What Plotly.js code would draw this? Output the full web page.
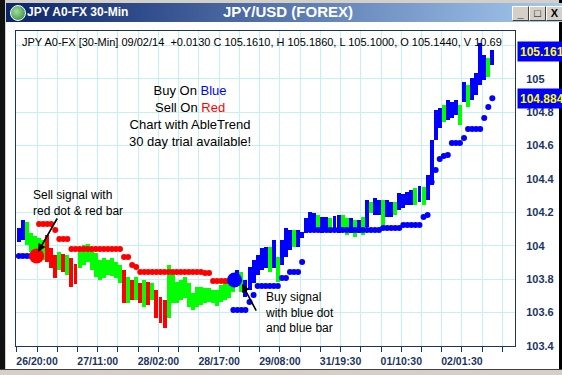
<!DOCTYPE html>
<html><head><meta charset="utf-8">
<script src="https://cdn.plot.ly/plotly-3.0.1.min.js"></script>
<style>
html,body{margin:0;padding:0;width:562px;height:375px;overflow:hidden;background:#fff;font-family:"Liberation Sans",Arial,sans-serif}
.abs{position:absolute}
#chart{position:absolute;left:0;top:0;width:562px;height:375px}
.btn{position:absolute;top:6px;width:15px;height:13px;background:#d4d0c8;border-top:1px solid #fff;border-left:1px solid #fff;border-right:1px solid #404040;border-bottom:1px solid #404040;font:bold 11px "Liberation Sans",Arial,sans-serif;color:#000;text-align:center;line-height:12px}
</style></head><body>
<div class="abs" style="left:0;top:0;width:562px;height:3px;background:#d4d0c8"></div>
<div class="abs" style="left:0;top:0;width:5px;height:375px;background:#111"></div>
<div class="abs" style="left:5px;top:0;width:1px;height:375px;background:#d4d0c8"></div>
<div class="abs" style="left:559px;top:0;width:3px;height:375px;background:#000"></div>
<div class="abs" style="left:0;top:369px;width:562px;height:6px;background:#d4d0c8;border-top:1px solid #404040"></div>
<div class="abs" style="left:6px;top:3px;width:556px;height:19px;background:linear-gradient(to right,#0a246a,#a6caf0)"></div>
<div class="abs" style="left:10px;top:5px;width:14px;height:14px;border-radius:50%;background:radial-gradient(circle at 40% 40%,#9fe09f,#2e7d32);border:1px solid #fff"></div>
<div class="btn" style="left:512px">_</div>
<div class="btn" style="left:529px">&#9633;</div>
<div class="btn" style="left:546px">X</div>
<div id="chart"></div>
<script>
// x-axis tick labels (every 15 hours; a minor tick every 5 hours)
const tickLabels = ['26/20:00','27/11:00','28/02:00','28/17:00','29/08:00','31/19:30','01/10:30','02/01:30'];

// hourly bars (high / low), AbleTrend colour per bar: b = blue, g = green, r = red
const barHigh = [
 104.107,104.154,104.143,104.077,104.059,104.047,104.035,104.065,103.987,103.945,
 103.963,103.951,103.945,103.927,103.891,103.987,104.005,104.011,103.975,103.957,
 103.915,103.927,103.915,103.927,103.903,103.885,103.855,103.813,103.795,103.813,
 103.777,103.795,103.783,103.777,103.735,103.693,103.675,103.885,103.837,103.783,
 103.795,103.813,103.777,103.717,103.753,103.753,103.747,103.747,103.735,103.735,
 103.765,103.777,103.795,103.837,103.855,103.843,103.795,103.873,103.915,103.945,
 103.987,103.993,103.993,104.035,103.933,104.035,104.107,104.095,104.095,104.095,
 104.083,104.166,104.202,104.196,104.184,104.172,104.172,104.166,104.178,104.184,
 104.184,104.166,104.166,104.154,104.154,104.172,104.274,104.262,104.286,104.274,
 104.274,104.274,104.262,104.262,104.316,104.310,104.322,104.334,104.346,104.358,
 104.352,104.424,104.634,104.813,104.825,104.843,104.873,104.861,104.873,104.843,
 104.981,104.963,105.005,105.035,105.214,105.142,105.125,105.172];
const barLow = [
 104.023,104.035,104.005,103.963,103.939,103.903,103.915,103.903,103.867,103.807,
 103.855,103.843,103.825,103.753,103.771,103.867,103.885,103.903,103.855,103.813,
 103.795,103.807,103.825,103.819,103.807,103.777,103.657,103.657,103.675,103.675,
 103.657,103.634,103.646,103.675,103.568,103.538,103.508,103.568,103.657,103.657,
 103.675,103.687,103.634,103.616,103.634,103.646,103.657,103.663,103.657,103.640,
 103.663,103.675,103.687,103.723,103.777,103.723,103.693,103.735,103.777,103.825,
 103.855,103.867,103.843,103.867,103.783,103.885,103.933,103.975,103.993,103.993,
 104.047,104.077,104.083,104.095,104.095,104.077,104.083,104.077,104.083,104.077,
 104.095,104.065,104.077,104.053,104.077,104.065,104.113,104.196,104.184,104.184,
 104.113,104.172,104.172,104.184,104.214,104.226,104.244,104.244,104.244,104.262,
 104.244,104.274,104.364,104.634,104.705,104.741,104.753,104.765,104.783,104.723,
 104.861,104.831,104.873,104.903,104.963,104.993,105.011,105.083];
const barTrend = ['bbgggggrrr','grgrrggggg','ggggggrgrg','rgrgrrrggg','gggggggggg','ggggbgbbbb',
 'bbgbgbbbgb','bbbbgbbgbb','ggbgbgbgbb','gbbgbbbbgb','gbbbbgbbbg','bgbbbbgb'].join('').split('');

// AbleTrend stop dots per bar and their side
const stopValue = [
 103.939,103.939,103.939,103.939,103.939,104.131,104.131,104.131,104.131,104.095,
 104.041,104.041,104.041,103.981,103.981,103.981,103.981,103.981,103.981,103.981,
 103.981,103.981,103.981,103.981,103.981,103.981,103.933,103.933,103.885,103.873,
 103.843,103.843,103.843,103.843,103.843,103.843,103.843,103.843,103.843,103.843,
 103.843,103.843,103.843,103.843,103.843,103.843,103.837,103.837,103.789,103.789,
 103.789,103.789,103.789,103.616,103.616,103.616,103.616,103.663,103.705,103.759,
 103.759,103.759,103.759,103.759,103.759,103.807,103.807,103.843,103.843,103.843,
 103.903,null,104.095,104.095,104.095,104.095,104.095,104.095,104.095,104.095,
 104.095,104.095,104.095,104.095,104.095,104.095,104.095,104.095,104.095,104.095,
 104.107,104.107,104.107,104.107,104.107,104.125,104.125,104.125,104.125,104.125,
 104.172,104.184,104.382,104.454,104.520,104.538,104.544,104.616,104.616,104.616,
 104.646,104.699,104.699,104.699,104.699,104.765,104.831,104.884];
const stopSide = ['bbbbbrrrrr','rrrrrrrrrr','rrrrrrrrrr','rrrrrrrrrr','rrrrrrrrrr','rrrbbbbbbb',
 'bbbbbbbbbb','bbbbbbbbbb','bbbbbbbbbb','bbbbbbbbbb','bbbbbbbbbb','bbbbbbbb'].join('').split('');

// signal dots (sell, buy)
const signalX = [4.4, 53.3];
const signalY = [103.939, 103.795];
const signalSide = ['r', 'b'];

const lastClose = 105.161;
const lastStop = stopValue[stopValue.length - 1];

const COL = {b: '#0000ff', g: '#00ff00', r: '#ff0000'};
const NAVY = '#1b3563';
const FONT = '"Liberation Sans", Arial, sans-serif';

const idx = barHigh.map((_, i) => i);
const tickVals = [], tickText = [];
for (let k = 0; k < 25; k++) {
  tickVals.push(-0.5 + 5 * k);
  tickText.push(k % 3 === 1 ? tickLabels[(k - 1) / 3] : '');
}
// price labels on the right; the top one (105.2) sits under the last-close box
const yTickVals = [103.4, 103.6, 103.8, 104, 104.2, 104.4, 104.6, 104.8, 105, 105.2];
const yTickText = ['103.4', '103.6', '103.8', '104', '104.2', '104.4', '104.6', '104.8', '105', ''];

const traces = [
  {type: 'bar', x: idx, base: barLow, y: barHigh.map((h, i) => h - barLow[i]),
   marker: {color: barTrend.map(c => COL[c]), line: {width: 0}}, width: 0.98,
   hoverinfo: 'skip', showlegend: false},
  {type: 'scatter', mode: 'markers', x: idx,
   y: stopValue.map((v, i) => stopSide[i] === 'r' ? v : null),
   marker: {color: COL.r, size: 6}, hoverinfo: 'skip', showlegend: false},
  {type: 'scatter', mode: 'markers', x: idx,
   y: stopValue.map((v, i) => stopSide[i] === 'b' ? v : null),
   marker: {color: COL.b, size: 6}, hoverinfo: 'skip', showlegend: false},
  {type: 'scatter', mode: 'markers', x: signalX, y: signalY,
   marker: {color: signalSide.map(c => COL[c]), size: 15}, hoverinfo: 'skip', showlegend: false}
];

const layout = {
  width: 562, height: 375,
  margin: {l: 16, r: 47, t: 31, b: 29},
  paper_bgcolor: 'rgba(0,0,0,0)', plot_bgcolor: '#ffffff',
  font: {family: FONT},
  bargap: 0,
  title: {text: 'JPY/USD (FOREX)', font: {family: FONT, size: 15, color: '#ffffff', weight: 'bold'},
          xref: 'container', x: 0.5125, xanchor: 'center', yref: 'container', y: 0.968, yanchor: 'middle'},
  xaxis: {range: [-0.7, 122.6], tickmode: 'array', tickvals: tickVals, ticktext: tickText,
          showgrid: true, gridcolor: '#c4f2f2', gridwidth: 1, zeroline: false,
          showline: true, mirror: true, linecolor: NAVY, linewidth: 1,
          ticks: 'outside', ticklen: 5, tickcolor: NAVY,
          tickfont: {family: FONT, size: 10.5, color: NAVY, weight: 'bold'}, fixedrange: true},
  yaxis: {range: [103.4, 105.286], side: 'right', tickmode: 'array', tickvals: yTickVals, ticktext: yTickText,
          showgrid: true, gridcolor: '#c4f2f2', gridwidth: 1, zeroline: false,
          showline: true, mirror: true, linecolor: NAVY, linewidth: 1,
          ticks: 'outside', ticklen: 8, tickcolor: 'rgba(0,0,0,0)',
          tickfont: {family: FONT, size: 11, color: NAVY, weight: 'bold'}, fixedrange: true},
  annotations: [
    {xref: 'paper', yref: 'paper', x: 0.018, y: 1.06, xanchor: 'left', yanchor: 'middle', showarrow: false,
     text: 'JPY A0-FX 30-Min', font: {family: FONT, size: 12, color: '#ffffff', weight: 'bold'}},
    {xref: 'paper', yref: 'paper', x: 0.008, y: 0.965, xanchor: 'left', yanchor: 'middle', showarrow: false,
     text: 'JPY A0-FX [30-Min] 09/02/14  +0.0130 C 105.1610, H 105.1860, L 105.1000, O 105.1440, V 10.69',
     font: {family: FONT, size: 11, color: '#000000'}},
    {xref: 'paper', yref: 'paper', x: 0.349, y: 0.73, xanchor: 'center', yanchor: 'middle', showarrow: false, align: 'center',
     text: 'Buy On <span style="color:#0000ff">Blue</span><br>Sell On <span style="color:#ff0000">Red</span><br>Chart with AbleTrend<br>30 day trial available!',
     font: {family: FONT, size: 13, color: '#000000'}},
    {xref: 'paper', yref: 'paper', x: 0.030, y: 0.454, xanchor: 'left', yanchor: 'middle', showarrow: false, align: 'left',
     text: 'Sell signal with<br>red dot &amp; red bar', font: {family: FONT, size: 12, color: '#000000'}},
    {xref: 'paper', yref: 'paper', x: 0.495, y: 0.105, xanchor: 'left', yanchor: 'middle', showarrow: false, align: 'left',
     text: 'Buy signal<br>with blue dot<br>and blue bar', font: {family: FONT, size: 12, color: '#000000'}},
    {xref: 'paper', yref: 'paper', x: 0.0441, y: 0.2984, ax: 20, ay: -35, text: '', showarrow: true,
     arrowhead: 2, arrowsize: 1, arrowwidth: 1.6, arrowcolor: '#000000'},
    {xref: 'paper', yref: 'paper', x: 0.4529, y: 0.1968, ax: 15, ay: 28, text: '', showarrow: true,
     arrowhead: 2, arrowsize: 1, arrowwidth: 1.6, arrowcolor: '#000000'},
    {xref: 'paper', yref: 'y', x: 1, y: lastClose, xanchor: 'left', yanchor: 'middle', xshift: 2, showarrow: false,
     text: lastClose.toFixed(3), bgcolor: '#0000ff', borderpad: 2, width: 52, height: 15, align: 'left',
     font: {family: FONT, size: 12, color: '#ffff00', weight: 'bold'}},
    {xref: 'paper', yref: 'y', x: 1, y: lastStop, xanchor: 'left', yanchor: 'middle', xshift: 2, showarrow: false,
     text: lastStop.toFixed(3), bgcolor: '#0000ff', borderpad: 2, width: 52, height: 15, align: 'left',
     font: {family: FONT, size: 12, color: '#ffff00', weight: 'bold'}}
  ]
};

Plotly.newPlot('chart', traces, layout, {staticPlot: true, displayModeBar: false});
</script>
</body></html>
